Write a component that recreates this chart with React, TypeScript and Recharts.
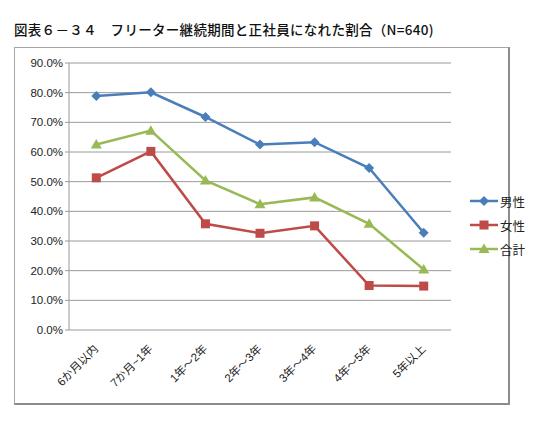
import { CartesianGrid, Line, LineChart, XAxis, YAxis } from "recharts";

const categories = ["6か月以内", "7か月~1年", "1年～2年", "2年～3年", "3年～4年", "4年～5年", "5年以上"];
const male = [78.9, 80.1, 71.8, 62.5, 63.3, 54.6, 32.8];
const female = [51.3, 60.2, 35.8, 32.6, 35.1, 15.0, 14.8];
const total = [62.5, 67.2, 50.4, 42.4, 44.7, 35.8, 20.4];
const yTicks = [0, 10, 20, 30, 40, 50, 60, 70, 80, 90];
const bandTicks = [0, 1, 2, 3, 4, 5, 6, 7];
const labelTicks = categories.map((_, i) => i + 0.5);

const rows = categories.map((name, i) => ({
  name,
  idx: i + 0.5,
  male: male[i],
  female: female[i],
  total: total[i],
}));

const BLUE = "#4a7ebb";
const RED = "#be4b48";
const GREEN = "#98b954";
const FONT = "'Liberation Sans', Arial, 'Noto Sans CJK JP', sans-serif";

function Marker({ kind, cx, cy, color }: { kind: string; cx: number; cy: number; color: string }) {
  if (kind === "diamond") {
    return <polygon points={`${cx},${cy - 5} ${cx + 5},${cy} ${cx},${cy + 5} ${cx - 5},${cy}`} fill={color} />;
  }
  if (kind === "square") {
    return <rect x={cx - 4.5} y={cy - 4.5} width={9} height={9} fill={color} />;
  }
  return <polygon points={`${cx},${cy - 5.5} ${cx + 5.5},${cy + 4} ${cx - 5.5},${cy + 4}`} fill={color} />;
}

const series = [
  { key: "male", label: "男性", color: BLUE, kind: "diamond" },
  { key: "female", label: "女性", color: RED, kind: "square" },
  { key: "total", label: "合計", color: GREEN, kind: "triangle" },
];

function LegendBox() {
  return (
    <div
      style={{
        position: "absolute",
        left: 470,
        top: 189,
        fontFamily: "'Noto Sans CJK JP', sans-serif",
        fontSize: 12.5,
        color: "#222",
      }}
    >
      {series.map((s) => (
        <div key={s.key} style={{ display: "flex", alignItems: "center", height: 24 }}>
          <svg width={28} height={12}>
            <line x1={0} y1={6} x2={28} y2={6} stroke={s.color} strokeWidth={2.5} />
            <Marker kind={s.kind} cx={14} cy={6} color={s.color} />
          </svg>
          <span style={{ marginLeft: 2 }}>{s.label}</span>
        </div>
      ))}
    </div>
  );
}

function CatTick({ x, y, payload }: any) {
  const label = categories[Math.floor(payload.value)] ?? "";
  const ax = x - 3;
  const ay = y + 6;
  return (
    <text
      x={ax}
      y={ay}
      transform={`rotate(-45 ${ax} ${ay})`}
      textAnchor="end"
      dominantBaseline="hanging"
      fontSize={11.5}
      fill="#222"
      fontFamily={FONT}
    >
      {label}
    </text>
  );
}

export default function App() {
  return (
    <div style={{ position: "absolute", left: 0, top: 0, width: 555, height: 421, background: "#fff" }}>
      <div
        style={{
          position: "absolute",
          left: 14,
          top: 19,
          fontFamily: "'Noto Sans CJK JP', sans-serif",
          fontSize: 13.5,
          letterSpacing: 0.3,
          fontWeight: 500,
          color: "#111",
          whiteSpace: "nowrap",
        }}
      >
        図表６－３４　フリーター継続期間と正社員になれた割合（N=640)
      </div>
      <div
        style={{
          position: "absolute",
          left: 14,
          top: 47,
          width: 493,
          height: 355,
          border: "1px solid #a6a6a6",
          borderRight: "2px solid #8c8c8c",
          borderBottom: "2px solid #8c8c8c",
        }}
      >
        <LineChart width={493} height={355} data={rows} margin={{ top: 15, right: 57, left: 0, bottom: 0 }}>
          <CartesianGrid horizontal vertical={false} stroke="#9a9a9a" strokeWidth={1} xAxisId="band" />
          <YAxis
            type="number"
            domain={[0, 90]}
            ticks={yTicks}
            interval={0}
            width={54}
            tickSize={4}
            tickLine={{ stroke: "#9a9a9a" }}
            axisLine={{ stroke: "#9a9a9a" }}
            tickFormatter={(v: number) => `${v.toFixed(1)}%`}
            tick={{ fill: "#222", fontSize: 11.5, fontFamily: FONT }}
          />
          <XAxis
            xAxisId="band"
            dataKey="idx"
            type="number"
            domain={[0, 7]}
            ticks={bandTicks}
            interval={0}
            height={0}
            tick={false}
            tickSize={4}
            tickLine={{ stroke: "#9a9a9a" }}
            axisLine={{ stroke: "#9a9a9a" }}
          />
          <XAxis
            xAxisId="lab"
            dataKey="idx"
            type="number"
            domain={[0, 7]}
            ticks={labelTicks}
            interval={0}
            height={73}
            tickLine={false}
            axisLine={false}
            tick={<CatTick />}
          />
          {series.map((s) => (
            <Line
              key={s.key}
              xAxisId="band"
              dataKey={s.key}
              stroke={s.color}
              strokeWidth={2.5}
              isAnimationActive={false}
              dot={(p: any) => <Marker key={`${s.key}-${p.index}`} kind={s.kind} cx={p.cx} cy={p.cy} color={s.color} />}
              activeDot={false}
            />
          ))}
        </LineChart>
      </div>
      <LegendBox />
    </div>
  );
}
